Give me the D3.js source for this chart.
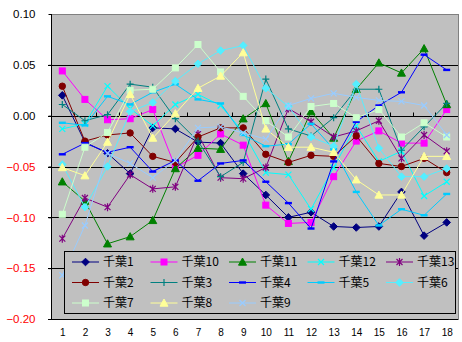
<!DOCTYPE html>
<html>
<head>
<meta charset="utf-8">
<script src="https://cdn.jsdelivr.net/npm/d3@7"></script>
<style>
  html, body { margin: 0; padding: 0; background: #ffffff; }
  svg { display: block; }
</style>
</head>
<body>
<svg id="chart" width="462" height="342"></svg>
<script>
// Categories on the x axis
const categories = [1, 2, 3, 4, 5, 6, 7, 8, 9, 10, 11, 12, 13, 14, 15, 16, 17, 18];

// Series values, one array per station
const chiba1  = [0.020, -0.026, -0.037, -0.057, -0.012, -0.013, -0.026, -0.027, -0.057, -0.078, -0.100, -0.095, -0.109, -0.110, -0.109, -0.075, -0.118, -0.105];
const chiba10 = [0.044, 0.016, -0.004, -0.003, 0.006, -0.051, -0.039, -0.018, -0.029, -0.088, -0.106, -0.105, -0.060, -0.025, -0.015, -0.027, -0.027, 0.006];
const chiba11 = [-0.065, -0.084, -0.126, -0.119, -0.103, -0.052, -0.032, -0.033, -0.003, 0.012, -0.045, 0.004, -0.022, 0.026, 0.052, 0.042, 0.066, 0.011];
const chiba12 = [-0.013, -0.008, 0.029, 0.007, -0.010, 0.011, 0.021, 0.010, -0.016, -0.056, -0.058, -0.092, -0.051, -0.010, -0.045, -0.035, -0.079, -0.065];
const chiba13 = [-0.121, -0.081, -0.090, -0.058, -0.072, -0.070, -0.018, -0.061, -0.062, -0.051, 0.007, -0.006, -0.021, -0.015, -0.005, -0.042, -0.019, -0.035];
const chiba2  = [0.029, -0.025, -0.019, -0.017, -0.040, -0.046, -0.021, -0.012, -0.012, -0.038, -0.046, -0.039, -0.040, -0.020, -0.047, -0.050, -0.042, -0.056];
const chiba3  = [0.011, -0.005, 0.001, 0.031, 0.028, -0.003, -0.025, -0.060, -0.046, 0.036, -0.013, -0.020, -0.002, 0.026, 0.026, -0.034, -0.011, 0.012];
const chiba4  = [-0.038, -0.027, -0.036, -0.031, -0.055, -0.044, -0.064, -0.047, -0.044, -0.065, -0.086, -0.111, -0.045, -0.006, 0.010, 0.023, 0.060, 0.045];
const chiba5  = [-0.007, -0.0095, 0.019, 0.011, 0.023, 0.031, 0.016, 0.012, -0.019, -0.030, -0.028, -0.008, -0.033, -0.075, -0.108, -0.092, -0.098, -0.077];
const chiba6  = [-0.048, -0.090, -0.050, 0.004, 0.013, 0.034, 0.051, 0.064, 0.069, 0.027, 0.009, -0.021, -0.030, 0.031, -0.032, -0.060, -0.060, -0.052];
const chiba7  = [-0.097, -0.031, -0.0165, 0.025, 0.026, 0.047, 0.070, 0.043, 0.019, -0.005, -0.021, 0.009, 0.012, -0.002, 0.006, -0.021, -0.007, -0.021];
const chiba8  = [-0.051, -0.059, -0.026, 0.021, -0.022, 0.002, 0.027, 0.039, 0.062, -0.013, -0.031, -0.031, -0.036, -0.063, -0.078, -0.078, -0.040, -0.040];
const chiba9  = [-0.157, -0.108, -0.037, -0.047, -0.061, -0.044, -0.012, -0.011, -0.017, -0.023, 0.010, 0.017, 0.022, 0.018, 0.015, 0.014, 0.010, -0.019];

// Series names, in legend order
const seriesNames = ["千葉1", "千葉10", "千葉11", "千葉12", "千葉13", "千葉2", "千葉3", "千葉4", "千葉5", "千葉6", "千葉7", "千葉8", "千葉9"];
const seriesValues = [chiba1, chiba10, chiba11, chiba12, chiba13, chiba2, chiba3, chiba4, chiba5, chiba6, chiba7, chiba8, chiba9];

// Y axis tick values
const yTicks = [0.10, 0.05, 0.00, -0.05, -0.10, -0.15, -0.20];

// Styles per series
const seriesColors = ["#000080", "#FF00FF", "#008000", "#00FFFF", "#800080", "#800000", "#008080", "#0000FF", "#00CCFF", "#55EEFF", "#CCFFCC", "#FFFF99", "#99CCFF"];
const seriesMarkers = ["diamond", "square", "triangle", "cross", "star", "circle", "plus", "dash", "dash", "diamond", "square", "triangle", "cross"];

const svg = d3.select("#chart");
const plot = { left: 51, right: 458, top: 14, bottom: 319 };

const x = d3.scalePoint().domain(categories).range([plot.left, plot.right]).padding(0.5);
const y = d3.scaleLinear().domain([-0.20, 0.10]).range([plot.bottom, plot.top]);

// Plot area background
svg.append("rect")
  .attr("x", plot.left).attr("y", plot.top)
  .attr("width", plot.right - plot.left).attr("height", plot.bottom - plot.top)
  .attr("fill", "#C0C0C0").attr("stroke", "#808080").attr("stroke-width", 1)
  .attr("shape-rendering", "crispEdges");

// Horizontal gridlines
svg.append("g").selectAll("line").data(yTicks.filter(d => d !== 0.10)).join("line")
  .attr("x1", plot.left - 3).attr("x2", plot.right)
  .attr("y1", d => Math.round(y(d)) + 0.5).attr("y2", d => Math.round(y(d)) + 0.5)
  .attr("stroke", "#000").attr("stroke-width", 1);

// Y axis
const yAxis = svg.append("g")
  .attr("transform", `translate(${plot.left + 0.5},0)`)
  .call(d3.axisLeft(y).tickValues(yTicks).tickFormat(d3.format(".2f")).tickSize(3).tickPadding(13));
yAxis.select(".domain").attr("stroke", "#000").attr("d", `M0,${plot.top}V${plot.bottom}`);
yAxis.selectAll(".tick line").attr("stroke", "#000");
yAxis.selectAll(".tick text")
  .attr("font-family", "'Liberation Sans', Arial, sans-serif")
  .attr("font-size", "11.5px")
  .attr("fill", d => d < 0 ? "#FF0000" : "#000000");

// Category axis line at zero with tick marks between categories
const zeroY = Math.round(y(0)) + 0.5;
const step = x.step();
svg.append("g").selectAll("line").data(categories.slice(1)).join("line")
  .attr("x1", d => Math.round(x(d) - step / 2) + 0.5)
  .attr("x2", d => Math.round(x(d) - step / 2) + 0.5)
  .attr("y1", zeroY).attr("y2", zeroY - 4)
  .attr("stroke", "#000").attr("stroke-width", 1);

// Category labels along the bottom
const xAxis = svg.append("g")
  .attr("transform", `translate(0,${plot.bottom})`)
  .call(d3.axisBottom(x).tickSize(0).tickPadding(10));
xAxis.select(".domain").remove();
xAxis.selectAll(".tick text")
  .attr("font-family", "'Liberation Sans', Arial, sans-serif")
  .attr("font-size", "10px")
  .attr("fill", "#000");

// Marker drawing
function drawMarker(g, type, color) {
  const s = 3.3;
  switch (type) {
    case "diamond":
      g.append("path").attr("d", `M0,${-s - 0.5}L${s + 0.5},0L0,${s + 0.5}L${-s - 0.5},0Z`).attr("fill", color).attr("stroke", color);
      break;
    case "square":
      g.append("rect").attr("x", -3).attr("y", -3).attr("width", 6).attr("height", 6).attr("fill", color).attr("stroke", color);
      break;
    case "triangle":
      g.append("path").attr("d", `M0,-4L4,3.2L-4,3.2Z`).attr("fill", color).attr("stroke", color);
      break;
    case "circle":
      g.append("circle").attr("r", 3.2).attr("fill", color).attr("stroke", color);
      break;
    case "cross":
      g.append("path").attr("d", "M-3,-3L3,3M-3,3L3,-3").attr("stroke", color).attr("stroke-width", 1.2).attr("fill", "none");
      break;
    case "plus":
      g.append("path").attr("d", "M-3.5,0H3.5M0,-3.5V3.5").attr("stroke", color).attr("stroke-width", 1.2).attr("fill", "none");
      break;
    case "star":
      g.append("path").attr("d", "M-3,-3L3,3M-3,3L3,-3M0,-4V4").attr("stroke", color).attr("stroke-width", 1.2).attr("fill", "none");
      break;
    case "dash":
      g.append("rect").attr("x", -3.5).attr("y", -1.2).attr("width", 7).attr("height", 2.4).attr("fill", color);
      break;
  }
}

// Series lines and markers
const line = d3.line().x((d, i) => x(categories[i])).y(d => y(d));
seriesValues.forEach((vals, si) => {
  const color = seriesColors[si];
  const g = svg.append("g");
  g.append("path").datum(vals).attr("d", line)
    .attr("fill", "none").attr("stroke", color).attr("stroke-width", 1);
  vals.forEach((v, i) => {
    const mg = g.append("g").attr("transform", `translate(${x(categories[i])},${y(v)})`);
    drawMarker(mg, seriesMarkers[si], color);
  });
});

// Legend
const legend = svg.append("g");
legend.append("rect")
  .attr("x", 64.5).attr("y", 251.5).attr("width", 391).attr("height", 62)
  .attr("fill", "#C0C0C0").attr("stroke", "#000").attr("stroke-width", 1);
const colX = [72, 150.5, 229, 307.5, 386];
const rowY = [262, 282.5, 303];
seriesNames.forEach((name, i) => {
  const col = i % 5, row = Math.floor(i / 5);
  const lx = colX[col], ly = rowY[row];
  const item = legend.append("g");
  item.append("line").attr("x1", lx).attr("x2", lx + 27).attr("y1", ly).attr("y2", ly)
    .attr("stroke", seriesColors[i]).attr("stroke-width", 1);
  drawMarker(item.append("g").attr("transform", `translate(${lx + 13.5},${ly})`), seriesMarkers[i], seriesColors[i]);
  item.append("text").attr("x", lx + 31).attr("y", ly).attr("dy", "0.36em")
    .attr("font-family", "'Noto Sans CJK JP', sans-serif").attr("font-size", "12px")
    .attr("fill", "#000").text(name);
});
</script>
</body>
</html>
